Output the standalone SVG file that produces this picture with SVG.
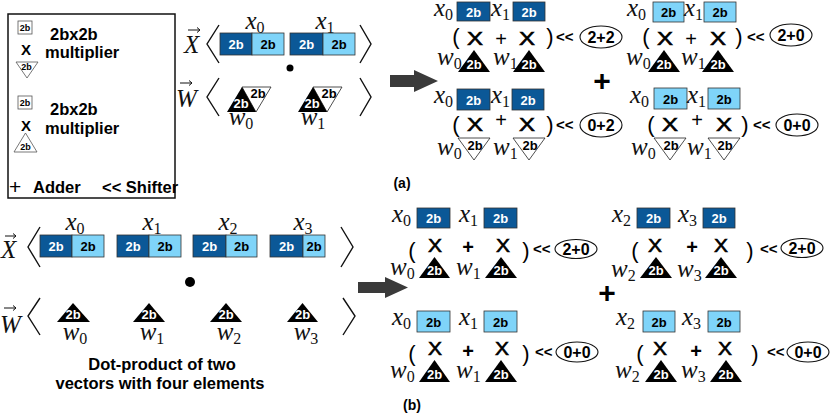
<svg xmlns="http://www.w3.org/2000/svg" width="830" height="416" viewBox="0 0 830 416">
<defs>
<style>
text{font-family:"Liberation Sans",Arial,sans-serif;}
.m{font-family:"Liberation Serif","Times New Roman",serif;font-style:italic;font-size:25px;fill:#111;}
.m tspan{font-style:normal;font-size:16px;}
.b{font-weight:bold;font-size:13px;text-anchor:middle;}
.bw{font-weight:bold;font-size:13px;text-anchor:middle;fill:#fff;}
.dk{fill:#0b5897;stroke:#333;stroke-width:0.8;}
.lt{fill:#7fd4f9;stroke:#333;stroke-width:0.8;}
.br{fill:none;stroke:#111;stroke-width:1.4;}
.tri{fill:#000;}
.wtri{fill:#fff;stroke:#222;stroke-width:0.8;}
.par{font-size:22px;text-anchor:middle;}
.mul{font-size:19px;text-anchor:middle;stroke:#000;stroke-width:0.6;}
.pl{font-size:20px;text-anchor:middle;}
.plb{font-size:20px;font-weight:bold;text-anchor:middle;}
.sh{font-size:15px;font-weight:bold;}
.ell{fill:#fff;stroke:#111;stroke-width:1.1;}
.et{font-size:16px;font-weight:bold;text-anchor:middle;}
.lg{font-size:16.5px;font-weight:bold;}
.sm{font-size:9px;font-weight:bold;text-anchor:middle;}
.lsq{fill:#fff;stroke:#555;stroke-width:0.8;}
.ltri{fill:#fff;stroke:#555;stroke-width:0.8;}
.arr{fill:#3a3a3a;}
.va{fill:none;stroke:#111;stroke-width:1;}
</style>
</defs>

<g id="legend">
<rect x="8" y="14" width="167" height="184" fill="#fff" stroke="#111" stroke-width="1.5"/>
<rect class="lsq" x="18" y="21" width="14" height="13"/>
<text class="sm" x="25" y="31">2b</text>
<text class="lg" x="50" y="40">2bx2b</text>
<text x="26" y="55" font-size="15" font-weight="bold" text-anchor="middle">X</text>
<text class="lg" x="45" y="58">multiplier</text>
<polygon class="ltri" points="16,62 38,62 27,78"/>
<text class="sm" x="26.5" y="70">2b</text>
<rect class="lsq" x="18" y="96" width="14" height="13"/>
<text class="sm" x="25" y="106">2b</text>
<text class="lg" x="50" y="115">2bx2b</text>
<text x="26" y="131" font-size="15" font-weight="bold" text-anchor="middle">X</text>
<text class="lg" x="45" y="134">multiplier</text>
<polygon class="ltri" points="14,152 25.5,133 37,152"/>
<text class="sm" x="25.5" y="150">2b</text>
<text x="9" y="194" font-size="21">+</text>
<text class="lg" x="33" y="193">Adder</text>
<text class="lg" x="102" y="193">&lt;&lt; Shifter</text>
</g>

<g id="vectors-a">
<text class="m" x="184" y="53">X</text>
<path class="va" d="M188,30 H200 M197,27.5 L200,30 L197,32.5"/>
<polyline class="br" points="219,25 207,44 219,63"/>
<polyline class="br" points="360,25 371,44 360,63"/>
<text class="m" x="255" y="29" text-anchor="middle">x<tspan dy="4">0</tspan></text>
<text class="m" x="325" y="29" text-anchor="middle">x<tspan dy="4">1</tspan></text>
<rect class="dk" x="220" y="33" width="32" height="22"/><text class="bw" x="236" y="49">2b</text>
<rect class="lt" x="252" y="33" width="32" height="22"/><text class="b" x="268" y="49">2b</text>
<rect class="dk" x="290" y="33" width="33" height="22"/><text class="bw" x="306.5" y="49">2b</text>
<rect class="lt" x="323" y="33" width="32" height="22"/><text class="b" x="339" y="49">2b</text>
<circle cx="290" cy="68" r="3.5" fill="#000"/>
<text class="m" x="176" y="107">W</text>
<path class="va" d="M180,83 H192 M189,80.5 L192,83 L189,85.5"/>
<polyline class="br" points="219,78 207,97 219,116"/>
<polyline class="br" points="360,78 371,97 360,116"/>
<polygon class="wtri" points="242,87 271,87 256,112"/>
<polygon class="tri" points="227,112 242,87 256,112"/>
<text class="bw" x="241" y="108" font-size="12">2b</text>
<text class="b" x="258" y="98" font-size="11">2b</text>
<polygon class="wtri" points="313,87 342,87 327,112"/>
<polygon class="tri" points="298,112 313,87 327,112"/>
<text class="bw" x="312" y="108" font-size="12">2b</text>
<text class="b" x="329" y="98" font-size="11">2b</text>
<text class="m" x="241" y="125" text-anchor="middle">w<tspan dy="4">0</tspan></text>
<text class="m" x="313" y="125" text-anchor="middle">w<tspan dy="4">1</tspan></text>
</g>

<g id="quad-a1">
<text class="m" x="434" y="16">x<tspan dy="4">0</tspan></text>
<rect class="dk" x="457" y="2" width="33" height="19"/><text class="bw" x="473.5" y="16.5">2b</text>
<text class="m" x="491" y="16">x<tspan dy="4">1</tspan></text>
<rect class="dk" x="513" y="2" width="32" height="19"/><text class="bw" x="529" y="16.5">2b</text>
<text class="par" x="456" y="44">(</text>
<text class="mul" x="475" y="45" textLength="16" lengthAdjust="spacingAndGlyphs">X</text>
<text class="pl" x="501" y="46">+</text>
<text class="mul" x="527" y="45" textLength="16" lengthAdjust="spacingAndGlyphs">X</text>
<text class="par" x="550" y="44">)</text>
<text class="sh" x="556" y="42">&lt;&lt;</text>
<ellipse class="ell" cx="601" cy="37" rx="21" ry="11"/><text class="et" x="601" y="43">2+2</text>
<text class="m" x="437" y="65">w<tspan dy="4">0</tspan></text>
<polygon class="tri" points="458,72 474,50 490,72"/><text class="bw" x="474" y="69">2b</text>
<text class="m" x="493" y="65">w<tspan dy="4">1</tspan></text>
<polygon class="tri" points="513,72 529,50 545,72"/><text class="bw" x="529" y="69">2b</text>
</g>

<g id="quad-a2">
<text class="m" x="627" y="16">x<tspan dy="4">0</tspan></text>
<rect class="lt" x="653" y="2" width="31" height="20"/><text class="b" x="668.5" y="17">2b</text>
<text class="m" x="684" y="16">x<tspan dy="4">1</tspan></text>
<rect class="lt" x="704" y="2" width="32" height="20"/><text class="b" x="720" y="17">2b</text>
<text class="par" x="646" y="44">(</text>
<text class="mul" x="665" y="45" textLength="16" lengthAdjust="spacingAndGlyphs">X</text>
<text class="pl" x="691" y="46">+</text>
<text class="mul" x="718" y="45" textLength="16" lengthAdjust="spacingAndGlyphs">X</text>
<text class="par" x="739" y="44">)</text>
<text class="sh" x="747" y="42">&lt;&lt;</text>
<ellipse class="ell" cx="791" cy="35" rx="21" ry="11"/><text class="et" x="791" y="41">2+0</text>
<text class="m" x="626" y="65">w<tspan dy="4">0</tspan></text>
<polygon class="tri" points="648,72 664,50 680,72"/><text class="bw" x="664" y="69">2b</text>
<text class="m" x="681" y="65">w<tspan dy="4">1</tspan></text>
<polygon class="tri" points="702,72 718,50 734,72"/><text class="bw" x="718" y="69">2b</text>
</g>

<g id="quad-a3">
<text class="m" x="434" y="103">x<tspan dy="4">0</tspan></text>
<rect class="dk" x="457" y="89" width="33" height="21"/><text class="bw" x="473.5" y="104.5">2b</text>
<text class="m" x="491" y="103">x<tspan dy="4">1</tspan></text>
<rect class="dk" x="512" y="89" width="32" height="21"/><text class="bw" x="528" y="104.5">2b</text>
<text class="par" x="456" y="132">(</text>
<text class="mul" x="475" y="131" textLength="16" lengthAdjust="spacingAndGlyphs">X</text>
<text class="pl" x="501" y="127">+</text>
<text class="mul" x="527" y="131" textLength="16" lengthAdjust="spacingAndGlyphs">X</text>
<text class="par" x="550" y="132">)</text>
<text class="sh" x="556" y="130">&lt;&lt;</text>
<ellipse class="ell" cx="601" cy="125" rx="21" ry="12"/><text class="et" x="601" y="131">0+2</text>
<text class="m" x="437" y="155">w<tspan dy="4">0</tspan></text>
<polygon class="wtri" points="458,138 490,138 474,160"/><text class="b" x="475" y="150">2b</text>
<text class="m" x="493" y="155">w<tspan dy="4">1</tspan></text>
<polygon class="wtri" points="513,138 545,138 529,160"/><text class="b" x="530" y="150">2b</text>
</g>

<g id="quad-a4">
<text class="m" x="630" y="103">x<tspan dy="4">0</tspan></text>
<rect class="lt" x="654" y="88" width="33" height="21"/><text class="b" x="670.5" y="103.5">2b</text>
<text class="m" x="687" y="103">x<tspan dy="4">1</tspan></text>
<rect class="lt" x="708" y="88" width="32" height="21"/><text class="b" x="724" y="103.5">2b</text>
<text class="par" x="651" y="132">(</text>
<text class="mul" x="670" y="131" textLength="16" lengthAdjust="spacingAndGlyphs">X</text>
<text class="pl" x="697" y="127">+</text>
<text class="mul" x="724" y="131" textLength="16" lengthAdjust="spacingAndGlyphs">X</text>
<text class="par" x="745" y="132">)</text>
<text class="sh" x="753" y="130">&lt;&lt;</text>
<ellipse class="ell" cx="797" cy="125" rx="21" ry="11"/><text class="et" x="797" y="131">0+0</text>
<text class="m" x="631" y="155">w<tspan dy="4">0</tspan></text>
<polygon class="wtri" points="654,138 686,138 670,160"/><text class="b" x="671" y="150">2b</text>
<text class="m" x="687" y="155">w<tspan dy="4">1</tspan></text>
<polygon class="wtri" points="708,138 740,138 724,160"/><text class="b" x="725" y="150">2b</text>
</g>

<g id="plus-a"><text x="602" y="91" font-size="30" font-weight="bold" text-anchor="middle">+</text></g>
<g id="label-a"><text x="402" y="188" font-size="14" font-weight="bold" text-anchor="middle">(a)</text></g>

<g id="vectors-b">
<text class="m" x="1" y="258">X</text>
<path class="va" d="M5,236 H16 M13,233.5 L16,236 L13,238.5"/>
<polyline class="br" points="40,227 28,247 40,267"/>
<polyline class="br" points="341,227 353,247 341,267"/>
<text class="m" x="75" y="230" text-anchor="middle">x<tspan dy="4">0</tspan></text>
<text class="m" x="152" y="230" text-anchor="middle">x<tspan dy="4">1</tspan></text>
<text class="m" x="228" y="230" text-anchor="middle">x<tspan dy="4">2</tspan></text>
<text class="m" x="303" y="230" text-anchor="middle">x<tspan dy="4">3</tspan></text>
<rect class="dk" x="40" y="235" width="32" height="22"/><text class="bw" x="56" y="251">2b</text>
<rect class="lt" x="72" y="235" width="32" height="22"/><text class="b" x="88" y="251">2b</text>
<rect class="dk" x="117" y="235" width="32" height="22"/><text class="bw" x="133" y="251">2b</text>
<rect class="lt" x="149" y="235" width="32" height="22"/><text class="b" x="165" y="251">2b</text>
<rect class="dk" x="193" y="235" width="33" height="22"/><text class="bw" x="209.5" y="251">2b</text>
<rect class="lt" x="226" y="235" width="31" height="22"/><text class="b" x="241.5" y="251">2b</text>
<rect class="dk" x="270" y="235" width="33" height="22"/><text class="bw" x="286.5" y="251">2b</text>
<rect class="lt" x="303" y="235" width="22" height="22"/><text class="b" x="314" y="251">2b</text>
<circle cx="190" cy="282" r="5" fill="#000"/>
<text class="m" x="0" y="333">W</text>
<path class="va" d="M4,308 H16 M13,305.5 L16,308 L13,310.5"/>
<polyline class="br" points="40,298 28,316 40,335"/>
<polyline class="br" points="343,298 355,316 343,335"/>
<polygon class="tri" points="57,322 73,303 90,322"/><text class="bw" x="73" y="319" font-size="12">2b</text>
<polygon class="tri" points="133,322 149,303 165,322"/><text class="bw" x="149" y="319" font-size="12">2b</text>
<polygon class="tri" points="210,322 226,303 242,322"/><text class="bw" x="226" y="319" font-size="12">2b</text>
<polygon class="tri" points="287,322 302.5,303 318,322"/><text class="bw" x="302.5" y="319" font-size="12">2b</text>
<text class="m" x="75" y="340" text-anchor="middle">w<tspan dy="4">0</tspan></text>
<text class="m" x="152" y="340" text-anchor="middle">w<tspan dy="4">1</tspan></text>
<text class="m" x="229" y="340" text-anchor="middle">w<tspan dy="4">2</tspan></text>
<text class="m" x="306" y="340" text-anchor="middle">w<tspan dy="4">3</tspan></text>
<text class="lg" x="162" y="370" text-anchor="middle">Dot-product of two</text>
<text class="lg" x="160" y="389" text-anchor="middle">vectors with four elements</text>
</g>

<g id="quad-b1">
<text class="m" x="392" y="222">x<tspan dy="4">0</tspan></text>
<rect class="dk" x="417" y="208" width="33" height="20"/><text class="bw" x="433.5" y="223">2b</text>
<text class="m" x="459" y="222">x<tspan dy="4">1</tspan></text>
<rect class="dk" x="484" y="208" width="33" height="20"/><text class="bw" x="500.5" y="223">2b</text>
<text class="par" x="412" y="258">(</text>
<text class="mul" x="435" y="252" textLength="14" lengthAdjust="spacingAndGlyphs">X</text>
<text class="plb" x="468" y="254">+</text>
<text class="mul" x="503" y="252" textLength="14" lengthAdjust="spacingAndGlyphs">X</text>
<text class="par" x="526" y="258">)</text>
<text class="sh" x="533" y="254">&lt;&lt;</text>
<ellipse class="ell" cx="576" cy="249" rx="21" ry="9.5"/><text class="et" x="576" y="255">2+0</text>
<text class="m" x="390" y="275">w<tspan dy="4">0</tspan></text>
<polygon class="tri" points="419,278 434.5,257 450,278"/><text class="bw" x="434.5" y="275">2b</text>
<text class="m" x="456" y="275">w<tspan dy="4">1</tspan></text>
<polygon class="tri" points="485,278 501,257 517,278"/><text class="bw" x="501" y="275">2b</text>
</g>

<g id="quad-b2">
<text class="m" x="612" y="222">x<tspan dy="4">2</tspan></text>
<rect class="dk" x="637" y="208" width="33" height="20"/><text class="bw" x="653.5" y="223">2b</text>
<text class="m" x="678" y="222">x<tspan dy="4">3</tspan></text>
<rect class="dk" x="703" y="208" width="32" height="20"/><text class="bw" x="719" y="223">2b</text>
<text class="par" x="635" y="258">(</text>
<text class="mul" x="655" y="252" textLength="14" lengthAdjust="spacingAndGlyphs">X</text>
<text class="plb" x="692" y="254">+</text>
<text class="mul" x="721" y="252" textLength="14" lengthAdjust="spacingAndGlyphs">X</text>
<text class="par" x="750" y="258">)</text>
<text class="sh" x="760" y="254">&lt;&lt;</text>
<ellipse class="ell" cx="802" cy="248" rx="21" ry="9.5"/><text class="et" x="802" y="254">2+0</text>
<text class="m" x="611" y="277">w<tspan dy="4">2</tspan></text>
<polygon class="tri" points="640,278 656,257 672,278"/><text class="bw" x="656" y="275">2b</text>
<text class="m" x="677" y="277">w<tspan dy="4">3</tspan></text>
<polygon class="tri" points="705,278 721,257 737,278"/><text class="bw" x="721" y="275">2b</text>
</g>

<g id="quad-b3">
<text class="m" x="392" y="325">x<tspan dy="4">0</tspan></text>
<rect class="lt" x="417" y="311" width="33" height="21"/><text class="b" x="433.5" y="326.5">2b</text>
<text class="m" x="459" y="325">x<tspan dy="4">1</tspan></text>
<rect class="lt" x="484" y="311" width="33" height="21"/><text class="b" x="500.5" y="326.5">2b</text>
<text class="par" x="412" y="361">(</text>
<text class="mul" x="435" y="355" textLength="14" lengthAdjust="spacingAndGlyphs">X</text>
<text class="plb" x="468" y="358">+</text>
<text class="mul" x="502" y="355" textLength="14" lengthAdjust="spacingAndGlyphs">X</text>
<text class="par" x="526" y="361">)</text>
<text class="sh" x="535" y="357">&lt;&lt;</text>
<ellipse class="ell" cx="577" cy="352" rx="21" ry="10"/><text class="et" x="577" y="358">0+0</text>
<text class="m" x="390" y="378">w<tspan dy="4">0</tspan></text>
<polygon class="tri" points="419,382 434.5,360 450,382"/><text class="bw" x="434.5" y="379">2b</text>
<text class="m" x="456" y="378">w<tspan dy="4">1</tspan></text>
<polygon class="tri" points="485,382 501,360 517,382"/><text class="bw" x="501" y="379">2b</text>
</g>

<g id="quad-b4">
<text class="m" x="616" y="325">x<tspan dy="4">2</tspan></text>
<rect class="lt" x="643" y="311" width="32" height="21"/><text class="b" x="659" y="326.5">2b</text>
<text class="m" x="682" y="325">x<tspan dy="4">3</tspan></text>
<rect class="lt" x="708" y="311" width="32" height="21"/><text class="b" x="724" y="326.5">2b</text>
<text class="par" x="640" y="361">(</text>
<text class="mul" x="660" y="355" textLength="14" lengthAdjust="spacingAndGlyphs">X</text>
<text class="plb" x="696" y="358">+</text>
<text class="mul" x="725" y="355" textLength="14" lengthAdjust="spacingAndGlyphs">X</text>
<text class="par" x="755" y="361">)</text>
<text class="sh" x="767" y="357">&lt;&lt;</text>
<ellipse class="ell" cx="808" cy="352" rx="21" ry="10"/><text class="et" x="808" y="358">0+0</text>
<text class="m" x="615" y="378">w<tspan dy="4">2</tspan></text>
<polygon class="tri" points="645,382 661,360 677,382"/><text class="bw" x="661" y="379">2b</text>
<text class="m" x="681" y="378">w<tspan dy="4">3</tspan></text>
<polygon class="tri" points="710,382 726,360 742,382"/><text class="bw" x="726" y="379">2b</text>
</g>

<g id="plus-b"><text x="607" y="303" font-size="30" font-weight="bold" text-anchor="middle">+</text></g>
<g id="label-b"><text x="412" y="410" font-size="14" font-weight="bold" text-anchor="middle">(b)</text></g>

<g id="connectors">
<polygon class="arr" points="390,75 414,75 414,70 438,81 414,92 414,87 390,87"/>
<polygon class="arr" points="358,282 385,282 385,277 408,287.5 385,298 385,293 358,293"/>
</g>
</svg>
